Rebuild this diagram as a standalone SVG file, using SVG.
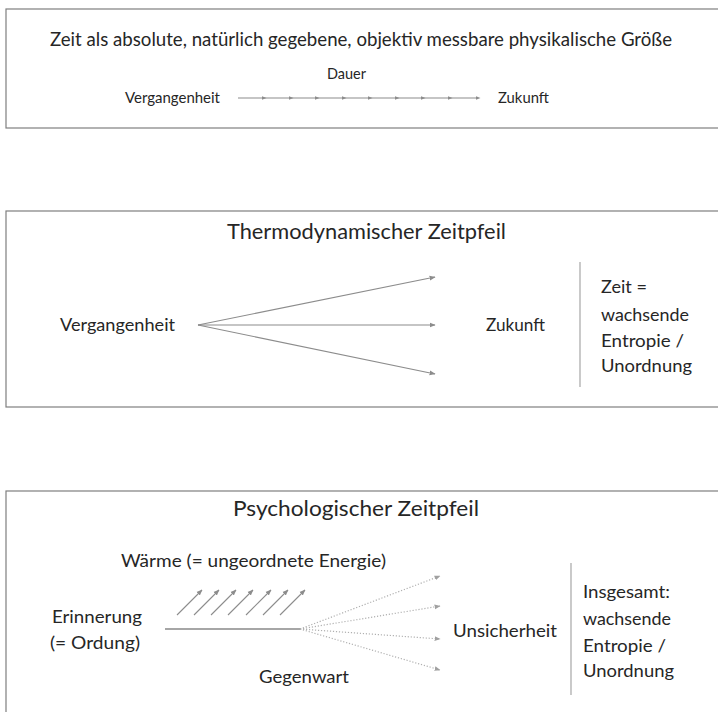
<svg xmlns="http://www.w3.org/2000/svg" width="718" height="712" viewBox="0 0 718 712">
<style>
text{font-family:Lato,"Open Sans","Liberation Sans",sans-serif;fill:#262626}
.box{fill:#fff;stroke:#7f7f7f;stroke-width:1.2}
.t16{font-size:15px}
.t19{font-size:17.5px}
.t20{font-size:19.5px}
.t24{font-size:21px}
.ln{stroke:#8c8c8c;stroke-width:1.1;fill:none}
.dot{stroke:#b0b0b0;stroke-width:1.2;stroke-dasharray:1.2 1.8;fill:none}
.sep{stroke:#a6a6a6;stroke-width:1.2}
</style>
<defs>
<marker id="ah" viewBox="0 0 10 10" refX="9" refY="5" markerWidth="6" markerHeight="6" markerUnits="userSpaceOnUse" orient="auto"><path d="M0,1 L10,5 L0,9 z" fill="#8c8c8c"/></marker>
<marker id="ahs" viewBox="0 0 10 10" refX="5" refY="5" markerWidth="5" markerHeight="5" markerUnits="userSpaceOnUse" orient="auto"><path d="M0,1 L10,5 L0,9 z" fill="#8c8c8c"/></marker>
<marker id="ahd" viewBox="0 0 10 10" refX="9" refY="5" markerWidth="6" markerHeight="6" markerUnits="userSpaceOnUse" orient="auto"><path d="M0,1 L10,5 L0,9 z" fill="#a0a0a0"/></marker>
</defs>
<rect width="718" height="712" fill="#fff"/>

<g id="box1">
<rect class="box" x="6" y="9" width="730" height="119"/>
<text class="t20" x="50" y="46" textLength="622" lengthAdjust="spacingAndGlyphs">Zeit als absolute, natürlich gegebene, objektiv messbare physikalische Größe</text>
<text class="t16" x="327" y="79" textLength="39" lengthAdjust="spacingAndGlyphs">Dauer</text>
<text class="t16" x="125" y="103" textLength="95" lengthAdjust="spacingAndGlyphs">Vergangenheit</text>
<text class="t16" x="498" y="103" textLength="51" lengthAdjust="spacingAndGlyphs">Zukunft</text>
</g>

<g id="box2">
<rect class="box" x="6" y="211" width="730" height="196"/>
<text class="t24" x="227" y="239" textLength="279" lengthAdjust="spacingAndGlyphs">Thermodynamischer Zeitpfeil</text>
<text class="t19" x="60" y="331" textLength="115" lengthAdjust="spacingAndGlyphs">Vergangenheit</text>
<text class="t19" x="486" y="331" textLength="59" lengthAdjust="spacingAndGlyphs">Zukunft</text>
<line class="sep" x1="580" y1="262" x2="580" y2="387"/>
<text class="t19" x="601" y="293" textLength="46" lengthAdjust="spacingAndGlyphs">Zeit =</text>
<text class="t19" x="601" y="321" textLength="88" lengthAdjust="spacingAndGlyphs">wachsende</text>
<text class="t19" x="601" y="347" textLength="83" lengthAdjust="spacingAndGlyphs">Entropie /</text>
<text class="t19" x="601" y="372" textLength="91" lengthAdjust="spacingAndGlyphs">Unordnung</text>
</g>

<g id="box3">
<rect class="box" x="6" y="491" width="730" height="240"/>
<text class="t24" x="233" y="516" textLength="246" lengthAdjust="spacingAndGlyphs">Psychologischer Zeitpfeil</text>
<text class="t19" x="121" y="567" textLength="265" lengthAdjust="spacingAndGlyphs">Wärme (= ungeordnete Energie)</text>
<text class="t19" x="52" y="623" textLength="90" lengthAdjust="spacingAndGlyphs">Erinnerung</text>
<text class="t19" x="50" y="649" textLength="90" lengthAdjust="spacingAndGlyphs">(= Ordung)</text>
<text class="t19" x="259" y="683" textLength="90" lengthAdjust="spacingAndGlyphs">Gegenwart</text>
<text class="t19" x="453" y="637" textLength="104" lengthAdjust="spacingAndGlyphs">Unsicherheit</text>
<line class="sep" x1="571" y1="563" x2="571" y2="695"/>
<text class="t19" x="583" y="598" textLength="87" lengthAdjust="spacingAndGlyphs">Insgesamt:</text>
<text class="t19" x="583" y="625" textLength="88" lengthAdjust="spacingAndGlyphs">wachsende</text>
<text class="t19" x="583" y="652" textLength="83" lengthAdjust="spacingAndGlyphs">Entropie /</text>
<text class="t19" x="583" y="677" textLength="91" lengthAdjust="spacingAndGlyphs">Unordnung</text>
</g>

<g id="connectors">
<polyline class="ln" points="238,98 264,98 291,98 317,98 344,98 370,98 397,98 423,98 450,98 478,98" marker-mid="url(#ahs)" marker-end="url(#ahs)"/>
<line class="ln" x1="198" y1="325" x2="435" y2="277" marker-end="url(#ah)"/>
<line class="ln" x1="198" y1="325" x2="435" y2="325" marker-end="url(#ah)"/>
<line class="ln" x1="198" y1="325" x2="435" y2="374" marker-end="url(#ah)"/>
<line x1="165" y1="629" x2="300" y2="629" stroke="#a6a6a6" stroke-width="2"/>
<line class="ln" x1="177" y1="615" x2="202" y2="590" marker-end="url(#ah)"/>
<line class="ln" x1="194" y1="615" x2="219" y2="590" marker-end="url(#ah)"/>
<line class="ln" x1="211" y1="615" x2="236" y2="590" marker-end="url(#ah)"/>
<line class="ln" x1="228" y1="615" x2="253" y2="590" marker-end="url(#ah)"/>
<line class="ln" x1="246" y1="615" x2="271" y2="590" marker-end="url(#ah)"/>
<line class="ln" x1="263" y1="615" x2="288" y2="590" marker-end="url(#ah)"/>
<line class="ln" x1="280" y1="615" x2="305" y2="590" marker-end="url(#ah)"/>
<line class="dot" x1="300" y1="629" x2="440" y2="576" marker-end="url(#ahd)"/>
<line class="dot" x1="300" y1="629" x2="440" y2="606" marker-end="url(#ahd)"/>
<line class="dot" x1="300" y1="629" x2="440" y2="639" marker-end="url(#ahd)"/>
<line class="dot" x1="300" y1="629" x2="440" y2="670" marker-end="url(#ahd)"/>
</g>
</svg>
